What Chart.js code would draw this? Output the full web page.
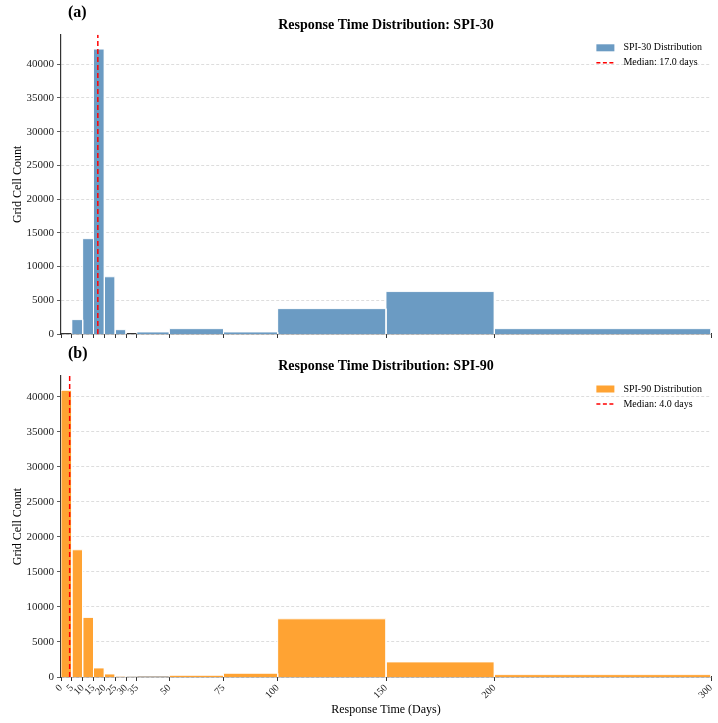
<!DOCTYPE html>
<html>
<head>
<meta charset="utf-8">
<script src="https://cdn.jsdelivr.net/npm/chart.js@4.4.0/dist/chart.umd.min.js"></script>
<style>
  body { margin: 0; background: #fff; }
  .panel { position: relative; width: 718px; }
  #wrapA { height: 345px; }
  #wrapB { height: 378px; }
</style>
</head>
<body>
<div class="panel" id="wrapA"><canvas id="chartA"></canvas></div>
<div class="panel" id="wrapB"><canvas id="chartB"></canvas></div>
<script>
// histogram bins (days) and counts
const binEdges = [0, 5, 10, 15, 20, 25, 30, 35, 50, 75, 100, 150, 200, 300];
const spi30Counts = [0, 2130, 14130, 42230, 8480, 640, 0, 300, 790, 300, 3760, 6290, 790];
const spi90Counts = [40900, 18150, 8500, 1290, 430, 100, 50, 20, 240, 530, 8300, 2150, 340];
const xTickValues = [0, 5, 10, 15, 20, 25, 30, 35, 50, 75, 100, 150, 200, 300];
const yTickValues = [0, 5000, 10000, 15000, 20000, 25000, 30000, 35000, 40000];
const spi30Median = 17.0;
const spi90Median = 4.0;
const spi30YMax = 44350;
const spi90YMax = 42950;

Chart.defaults.font.family = "'Liberation Serif', 'DejaVu Serif', serif";
Chart.defaults.color = '#222';

const panelDecor = {
  id: 'panelDecor',
  afterDraw(chart, args, opts) {
    const { ctx, chartArea } = chart;
    ctx.save();
    ctx.fillStyle = '#000';
    ctx.textBaseline = 'middle';
    ctx.textAlign = 'left';
    ctx.font = "bold 16px 'Liberation Serif'";
    ctx.fillText(opts.tag, chartArea.left + 7, chartArea.top - 22);

    // legend, top right inside the plot
    ctx.font = "10px 'Liberation Serif'";
    const widths = opts.items.map(it => ctx.measureText(it.label).width);
    const textX = chartArea.right - 9 - Math.max(...widths);
    opts.items.forEach((it, i) => {
      const y = chartArea.top + 13 + i * 15;
      if (it.kind === 'box') {
        ctx.fillStyle = it.color;
        ctx.fillRect(textX - 27, y - 3.5, 18, 7);
      } else {
        ctx.strokeStyle = it.color;
        ctx.lineWidth = 1.5;
        ctx.setLineDash([4, 2.5]);
        ctx.beginPath();
        ctx.moveTo(textX - 27, y);
        ctx.lineTo(textX - 9, y);
        ctx.stroke();
        ctx.setLineDash([]);
      }
      ctx.fillStyle = '#000';
      ctx.fillText(it.label, textX, y);
    });
    ctx.restore();
  }
};

function binDatasets(counts, color) {
  const sets = [];
  counts.forEach((c, i) => {
    if (c <= 0) return;
    const lo = binEdges[i], hi = binEdges[i + 1];
    sets.push({
      data: [{ x: lo, y: 0 }, { x: lo, y: c }, { x: hi, y: c }, { x: hi, y: 0 }],
      backgroundColor: color,
      borderColor: 'rgba(255,255,255,0.9)',
      borderWidth: 1,
      fill: 'origin',
      pointRadius: 0,
      tension: 0,
      order: 1
    });
  });
  return sets;
}

function makePanel(id, counts, color, median, yMax, tag, title, distLabel, showX) {
  const medianSet = {
    data: [{ x: median, y: 0 }, { x: median, y: yMax }],
    borderColor: 'red',
    borderWidth: 1.5,
    borderDash: [5, 3],
    fill: false,
    pointRadius: 0,
    order: 0
  };
  return new Chart(document.getElementById(id), {
    type: 'line',
    data: { datasets: [medianSet, ...binDatasets(counts, color)] },
    options: {
      responsive: true,
      maintainAspectRatio: false,
      animation: false,
      layout: { padding: { left: 0, right: 7, top: 0, bottom: 0 } },
      scales: {
        x: {
          type: 'linear',
          min: 0,
          max: 300,
          z: 1,
          afterBuildTicks: s => { s.ticks = xTickValues.map(v => ({ value: v })); },
          afterFit: s => {
            s.height = showX ? 46 : 11;
            s.paddingLeft = 0;
            s.paddingRight = 0;
          },
          grid: { display: true, drawOnChartArea: false, drawTicks: true, tickLength: 4, tickColor: '#333', tickWidth: 1 },
          border: { color: '#333', width: 1.2 },
          ticks: {
            display: showX,
            autoSkip: false,
            maxRotation: 45,
            minRotation: 45,
            padding: 1,
            font: { size: 10 },
            color: '#222',
            callback: v => v
          },
          title: {
            display: showX,
            text: 'Response Time (Days)',
            font: { size: 12 },
            color: '#000',
            padding: { top: 4, bottom: 6 }
          }
        },
        y: {
          type: 'linear',
          min: 0,
          max: yMax,
          z: 1,
          afterBuildTicks: s => { s.ticks = yTickValues.map(v => ({ value: v })); },
          afterFit: s => { s.width = 61; },
          grid: { color: 'rgba(0,0,0,0.17)', lineWidth: 0.8, tickColor: '#333', tickLength: 4, tickBorderDash: [] },
          border: { color: '#333', width: 1.2, dash: [3, 2] },
          ticks: { autoSkip: false, padding: 3, font: { size: 11 }, color: '#222', callback: v => v },
          title: {
            display: true,
            text: 'Grid Cell Count',
            font: { size: 12 },
            color: '#000',
            padding: { top: 11, bottom: 4 }
          }
        }
      },
      plugins: {
        legend: { display: false },
        tooltip: { enabled: false },
        title: {
          display: true,
          text: title,
          fullSize: false,
          color: '#000',
          font: { size: 14, weight: 'bold' },
          padding: { top: showX ? 13.2 : 17, bottom: 1 }
        },
        panelDecor: {
          tag,
          items: [
            { kind: 'box', color, label: distLabel },
            { kind: 'dash', color: 'red', label: 'Median: ' + median.toFixed(1) + ' days' }
          ]
        }
      }
    },
    plugins: [panelDecor]
  });
}

makePanel('chartA', spi30Counts, '#6b9bc3', spi30Median, spi30YMax, '(a)',
  'Response Time Distribution: SPI-30', 'SPI-30 Distribution', false);
makePanel('chartB', spi90Counts, '#ffa333', spi90Median, spi90YMax, '(b)',
  'Response Time Distribution: SPI-90', 'SPI-90 Distribution', true);
</script>
</body>
</html>
